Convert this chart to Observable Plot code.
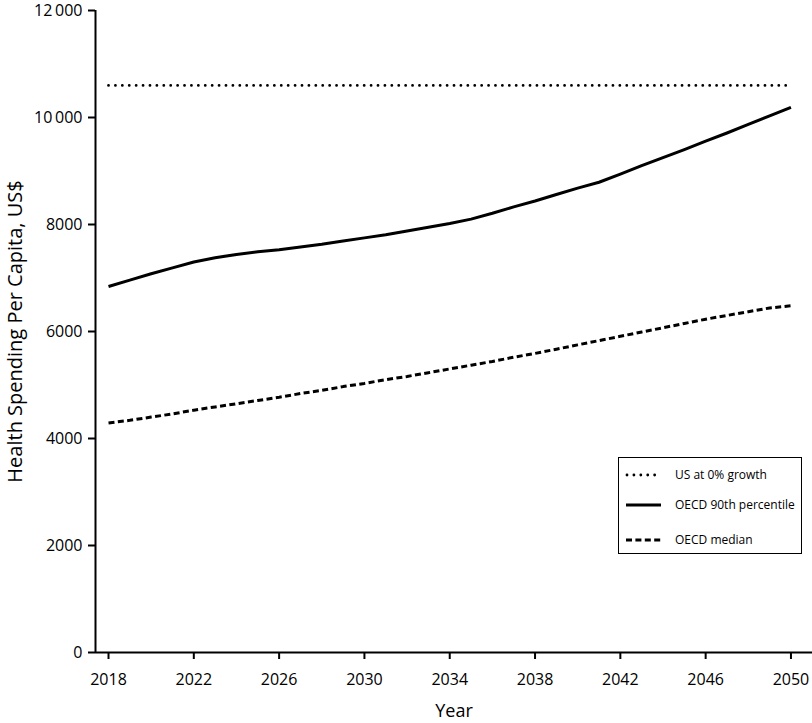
<!DOCTYPE html>
<html>
<head>
<meta charset="utf-8">
<script src="https://cdn.jsdelivr.net/npm/d3@7"></script>
<script src="https://cdn.jsdelivr.net/npm/@observablehq/plot@0.6"></script>
<style>
  html, body { margin: 0; padding: 0; background: #fff; }
  body { font-family: "Open Sans", sans-serif; color: #000; }
  #wrap { position: relative; width: 812px; height: 723px; }
  #legend { position: absolute; left: 618px; top: 457px; width: 182px; height: 95px;
            border: 1.6px solid #000; background: #fff; box-sizing: content-box; }
  .item { position: absolute; left: 0; height: 20px; display: block; }
  .item svg { position: absolute; left: 6px; top: 7px; }
  .item span { position: absolute; left: 56px; top: 0; font-size: 12px; line-height: 20px; white-space: nowrap; }
</style>
</head>
<body>
<div id="wrap"></div>
<script>
// ---- data ----
const years = [2018, 2019, 2020, 2021, 2022, 2023, 2024, 2025, 2026, 2027, 2028,
               2029, 2030, 2031, 2032, 2033, 2034, 2035, 2036, 2037, 2038, 2039,
               2040, 2041, 2042, 2043, 2044, 2045, 2046, 2047, 2048, 2049, 2050];

const usZeroGrowth = [10600, 10600, 10600, 10600, 10600, 10600, 10600, 10600, 10600, 10600, 10600,
                      10600, 10600, 10600, 10600, 10600, 10600, 10600, 10600, 10600, 10600, 10600,
                      10600, 10600, 10600, 10600, 10600, 10600, 10600, 10600, 10600, 10600, 10600];

const oecd90th = [6840, 6960, 7080, 7190, 7300, 7380, 7440, 7490, 7530, 7580, 7630,
                  7690, 7750, 7810, 7880, 7950, 8020, 8100, 8210, 8330, 8440, 8560,
                  8680, 8790, 8940, 9100, 9250, 9400, 9560, 9710, 9870, 10030, 10190];

const oecdMedian = [4290, 4340, 4400, 4460, 4530, 4590, 4650, 4710, 4770, 4840, 4900,
                    4970, 5030, 5100, 5160, 5230, 5300, 5370, 5440, 5520, 5590, 5670,
                    5750, 5830, 5910, 5990, 6070, 6150, 6230, 6300, 6370, 6440, 6480];

const seriesNames = ["US at 0% growth", "OECD 90th percentile", "OECD median"];
const xTicks = [2018, 2022, 2026, 2030, 2034, 2038, 2042, 2046, 2050];
const yTicks = [0, 2000, 4000, 6000, 8000, 10000, 12000];
const xLabel = "Year";
const yLabel = "Health Spending Per Capita, US$";

// ---- styles ----
const styles = {
  "US at 0% growth":      { strokeWidth: 2.8, dash: "0.01 6.9", cap: "round" },
  "OECD 90th percentile": { strokeWidth: 3,   dash: null, cap: "butt" },
  "OECD median":          { strokeWidth: 3,   dash: "6 3.4", cap: "butt" }
};

const seriesValues = [usZeroGrowth, oecd90th, oecdMedian];
const tables = seriesNames.map((name, s) => years.map((yr, i) => ({ year: yr, value: seriesValues[s][i], series: name })));

const xDomain = [2017.39, 2051.01];
const fmt = d => d >= 10000 ? String(d).slice(0, -3) + "\u2009" + String(d).slice(-3) : String(d);

const chart = Plot.plot({
  width: 812,
  height: 723,
  marginLeft: 95,
  marginRight: 0,
  marginTop: 10,
  marginBottom: 71,
  x: { domain: xDomain },
  y: { domain: [0, 12000] },
  style: { fontFamily: "'Open Sans', sans-serif", fontSize: "16px", color: "#000", background: "#fff", overflow: "visible" },
  marks: [
    Plot.axisY({ ticks: yTicks, tickSize: 7, tickPadding: 6, tickFormat: fmt, strokeWidth: 2, label: null, fontSize: 16 }),
    Plot.axisX({ ticks: xTicks, tickSize: 7, tickPadding: 14, tickFormat: d => String(d), strokeWidth: 2, label: null, fontSize: 16 }),
    Plot.ruleY([0], { strokeWidth: 2 }),
    Plot.ruleX([xDomain[0]], { y1: 0, y2: 12000, strokeWidth: 2 }),
    ...tables.map((t, s) => Plot.line(t, {
      x: "year", y: "value", stroke: "#000",
      strokeWidth: styles[seriesNames[s]].strokeWidth,
      strokeDasharray: styles[seriesNames[s]].dash || undefined,
      strokeLinecap: styles[seriesNames[s]].cap,
      curve: "linear"
    })),
    Plot.text([xLabel], { frameAnchor: "bottom", dy: 59, lineAnchor: "middle", textAnchor: "middle", fontSize: 18, fill: "#000" }),
    Plot.text([yLabel], { frameAnchor: "left", dx: -80, rotate: -90, lineAnchor: "middle", textAnchor: "middle", fontSize: 20, fill: "#000" })
  ]
});

const wrap = document.getElementById("wrap");
wrap.appendChild(chart);

// ---- legend (overlay inside the plot area) ----
const legend = document.createElement("div");
legend.id = "legend";
const rowCenters = [17, 47, 82];
seriesNames.forEach((name, i) => {
  const item = document.createElement("div");
  item.className = "item";
  item.style.top = (rowCenters[i] - 10) + "px";
  const st = styles[name];
  const x1 = st.cap === "round" ? 2 : 1;
  item.innerHTML =
    `<svg width="38" height="6"><line x1="${x1}" x2="36" y1="3" y2="3" stroke="#000" stroke-width="${st.strokeWidth}" stroke-linecap="${st.cap}" ${st.dash ? `stroke-dasharray="${st.dash}"` : ""}/></svg><span>${name}</span>`;
  legend.appendChild(item);
});
wrap.appendChild(legend);
</script>
</body>
</html>
